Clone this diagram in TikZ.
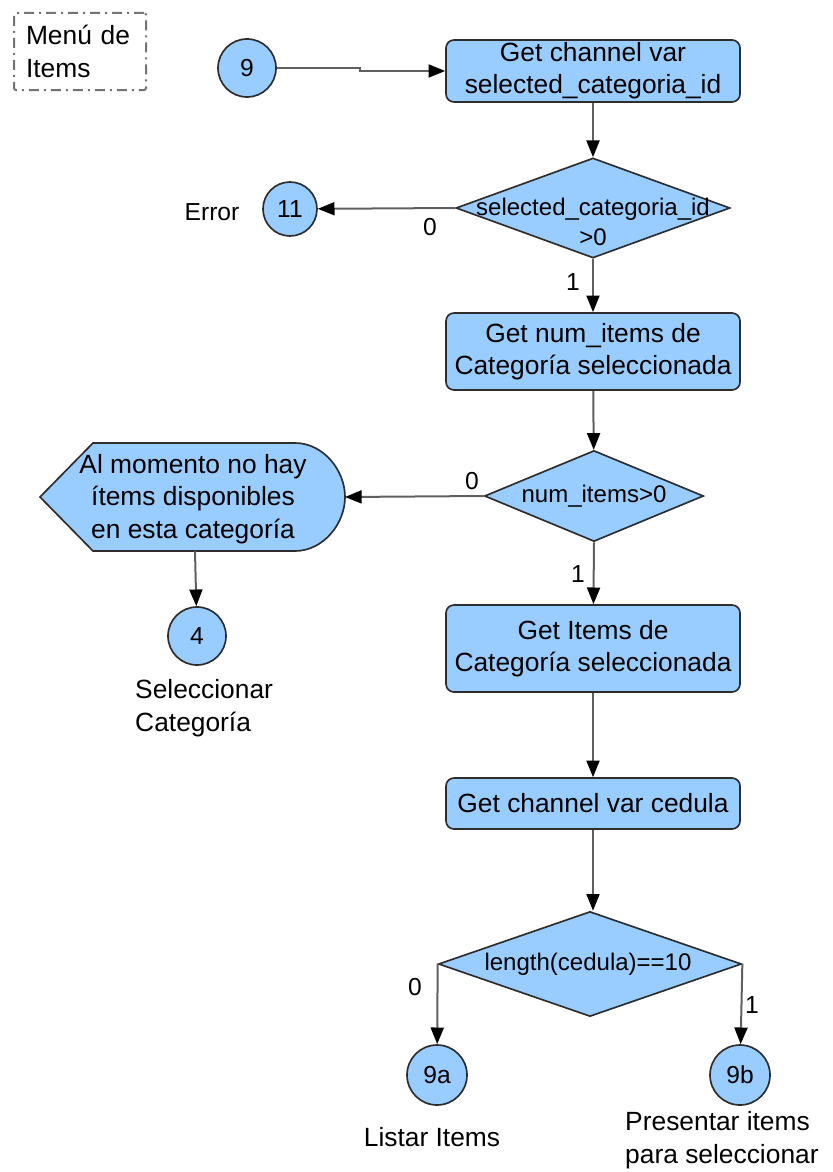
\documentclass[tikz,border=0pt]{standalone}
\usepackage{fontspec}
\setmainfont{Liberation Sans}
\usepackage{tikz}
\usetikzlibrary{calc}
\usetikzlibrary{arrows.meta}
\usetikzlibrary{shapes.geometric}
\definecolor{boxblue}{RGB}{153,204,255}
\definecolor{edgegray}{RGB}{45,45,45}
\definecolor{linegray}{RGB}{95,95,95}
\tikzset{inv/.style={opacity=0}}
\tikzset{proc/.style={rectangle,rounded corners=2.4mm,draw=edgegray,fill=boxblue,line width=0.5mm,minimum width=88.2mm,inner sep=0pt,align=center,font=\fontsize{22.5}{27}\selectfont}}
\tikzset{dec/.style={diamond,draw=edgegray,fill=boxblue,line width=0.5mm,inner sep=0pt}}
\tikzset{dtext/.style={inner sep=0pt,align=center,font=\fontsize{20.5}{25}\selectfont}}
\tikzset{conn/.style={circle,draw=edgegray,fill=boxblue,line width=0.5mm,inner sep=0pt,minimum size=17.4mm,font=\fontsize{21}{24}\selectfont}}
\tikzset{flow/.style={draw=linegray,line width=0.6mm,-{Triangle[length=5mm,width=3.9mm,color=black]}}}
\tikzset{lbl/.style={inner sep=0pt,font=\fontsize{21}{24}\selectfont}}
\tikzset{note/.style={inner sep=0pt,align=left,font=\fontsize{22.5}{28.5}\selectfont}}

\begin{document}
\begin{tikzpicture}[x=0.3mm,y=-0.3mm]
\useasboundingbox (0,0) rectangle (832,1172);

% titulo
\node[note,anchor=north west,draw=black!55,line width=0.6mm,dash pattern=on 3mm off 1.5mm on 0.6mm off 1.5mm,rounded corners=0.6mm,minimum width=39.6mm,minimum height=21.9mm,text width=32.4mm,inner sep=3.6mm](menu) at (13,12){Menú de\\Items};

% columna principal
\node[conn](n9) at (247,68){9};
\node[proc,minimum height=18.6mm](box1) at (593,71){Get channel var\\selected\_categoria\_id};
\node[dec,minimum width=82.2mm,minimum height=30mm](d1) at (593,208){};
\node[dtext](d1t) at (593,222){selected\_categoria\_id\\>0};
\node[conn,minimum size=16.2mm](n11) at (290,209){11};
\node[lbl](err) at (212,212){Error};
\node[proc,minimum height=23.1mm](box2) at (593,351.5){Get num\_items de\\Categoría seleccionada};
\node[dec,minimum width=65.7mm,minimum height=27.3mm](d2) at (594,496){};
\node[dtext](d2t) at (594,496){num\_items>0};

% mensaje (display)
\coordinate (dispE) at (345,497);
\coordinate (dispS) at (195,551);
\draw[draw=edgegray,fill=boxblue,line width=0.5mm] (40,497) -- (93,443) -- (295,443)
  .. controls (323,443) and (345,470) .. (dispE)
  .. controls (345,524) and (323,551) .. (295,551) -- (93,551) -- cycle;
\node[note,align=center,font=\fontsize{22.5}{27.5}\selectfont](disp) at (193,499){Al momento no hay\\ítems disponibles\\en esta categoría};
\node[conn](n4) at (197,636){4};
\node[note,anchor=west](sel) at (135,708){Seleccionar\\Categoría};

\node[proc,minimum height=26.1mm](box3) at (593,648.5){Get Items de\\Categoría seleccionada};
\node[proc,minimum height=15.3mm](box4) at (593,803.5){Get channel var cedula};
\node[dec,minimum width=90.9mm,minimum height=31.5mm](d3) at (590,964){};
\node[dtext](d3t) at (588,964){length(cedula)==10};
\node[conn,minimum size=18mm](n9a) at (437,1075){9a};
\node[conn,minimum size=18mm](n9b) at (740,1075){9b};
\node[note](lst) at (432,1137){Listar Items};
\node[note,anchor=west](pres) at (625,1140){Presentar items\\para seleccionar};

% conectores
\draw[flow] (n9) -- ++(113,0) |- (box1);
\draw[flow] (box1) -- (d1);
\draw[flow] (d1.west) -- (n11);
\node[lbl](l1) at (430,227){0};
\draw[flow] (d1.south) -- (box2);
\node[lbl](l2) at (573,282){1};
\draw[flow] (box2) -- (d2);
\draw[flow] (d2.west) -- (dispE);
\node[lbl](l3) at (472,481){0};
\draw[flow] (dispS) -- (n4);
\draw[flow] (d2.south) -- (box3);
\node[lbl](l4) at (578,574){1};
\draw[flow] (box3) -- (box4);
\draw[flow] (box4.south) -- (box4.south |- d3.north);
\draw[flow] (d3.west) -- (n9a);
\node[lbl](l5) at (415,987){0};
\draw[flow] (d3.east) -- (n9b);
\node[lbl](l6) at (752,1005){1};

\end{tikzpicture}
\end{document}
